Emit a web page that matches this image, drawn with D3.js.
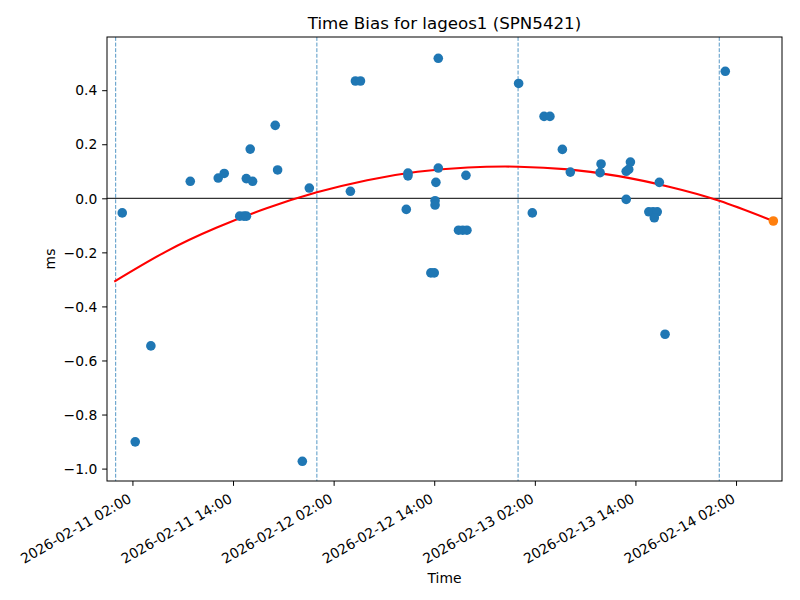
<!DOCTYPE html>
<html>
<head>
<meta charset="utf-8">
<script src="https://cdn.jsdelivr.net/npm/d3@7"></script>
<style>
  html, body { margin: 0; padding: 0; background: #fff; }
  svg { display: block; }
  text { font-family: "DejaVu Sans", sans-serif; fill: #000; }
</style>
</head>
<body>
<svg id="chart" width="800" height="600"></svg>
<script>
// ---- Data ----
const title = "Time Bias for lageos1 (SPN5421)";
const xLabel = "Time";
const yLabel = "ms";

// Observed time bias residuals (UTC) and values in ms
const obsTimes = [
  "2026-02-11 00:47", "2026-02-11 02:20", "2026-02-11 04:12", "2026-02-11 08:54",
  "2026-02-11 12:14", "2026-02-11 12:57", "2026-02-11 14:48", "2026-02-11 15:18",
  "2026-02-11 15:36", "2026-02-11 15:35", "2026-02-11 16:03", "2026-02-11 16:20",
  "2026-02-11 19:02", "2026-02-11 19:19", "2026-02-11 22:16", "2026-02-11 23:06",
  "2026-02-12 04:00", "2026-02-12 04:36", "2026-02-12 05:12", "2026-02-12 10:40",
  "2026-02-12 10:52", "2026-02-12 10:52", "2026-02-12 13:36", "2026-02-12 14:00",
  "2026-02-12 14:06", "2026-02-12 14:06", "2026-02-12 14:12", "2026-02-12 14:29",
  "2026-02-12 14:29", "2026-02-12 16:54", "2026-02-12 17:24", "2026-02-12 17:54",
  "2026-02-12 17:47", "2026-02-13 00:04", "2026-02-13 01:42", "2026-02-13 03:06",
  "2026-02-13 03:48", "2026-02-13 05:17", "2026-02-13 06:14", "2026-02-13 09:47",
  "2026-02-13 09:54", "2026-02-13 12:54", "2026-02-13 12:54", "2026-02-13 13:12",
  "2026-02-13 13:24", "2026-02-13 15:36", "2026-02-13 16:06", "2026-02-13 16:36",
  "2026-02-13 16:15", "2026-02-13 16:51", "2026-02-13 17:32", "2026-02-14 00:43"
];
const obsValues = [
  -0.054, -0.901, -0.546, 0.063,
  0.075, 0.092, -0.066, -0.066,
  -0.066, 0.073, 0.182, 0.063,
  0.270, 0.105, -0.973, 0.038,
  0.026, 0.434, 0.434, -0.041,
  0.093, 0.083, -0.276, -0.276,
  -0.009, -0.025, 0.059, 0.112,
  0.518, -0.118, -0.118, -0.118,
  0.085, 0.425, -0.054, 0.303,
  0.303, 0.181, 0.097, 0.095,
  0.127, -0.004, 0.100, 0.107,
  0.134, -0.050, -0.050, -0.050,
  -0.072, 0.059, -0.503, 0.470
];

// Predicted (extrapolated) point
const predTimes = ["2026-02-14 06:27"];
const predValues = [-0.084];

// Fitted curve
const fitTimes = [
  "2026-02-10 23:50", "2026-02-11 06:00", "2026-02-11 12:00", "2026-02-11 18:00",
  "2026-02-12 00:00", "2026-02-12 06:00", "2026-02-12 12:00", "2026-02-12 18:00",
  "2026-02-13 00:00", "2026-02-13 06:00", "2026-02-13 12:00", "2026-02-13 18:00",
  "2026-02-14 00:00", "2026-02-14 06:27"
];
const fitValues = [
  -0.308, -0.197, -0.109, -0.037,
  0.022, 0.067, 0.098, 0.114,
  0.117, 0.107, 0.082, 0.043,
  -0.009, -0.084
];

// Day boundaries (dashed vertical lines)
const dayLines = ["2026-02-11 00:00", "2026-02-12 00:00", "2026-02-13 00:00", "2026-02-14 00:00"];

// Tick labels
const xTickLabels = [
  "2026-02-11 02:00", "2026-02-11 14:00", "2026-02-12 02:00", "2026-02-12 14:00",
  "2026-02-13 02:00", "2026-02-13 14:00", "2026-02-14 02:00"
];
const yTickValues = [-1.0, -0.8, -0.6, -0.4, -0.2, 0.0, 0.2, 0.4];

// ---- Drawing ----
const parse = d3.utcParse("%Y-%m-%d %H:%M");
const fmt = d3.utcFormat("%Y-%m-%d %H:%M");

const L = 107, R = 782, T = 37, B = 481;
const FS = "13.89px";
const svg = d3.select("#chart");

const x = d3.scaleUtc()
  .domain([parse("2026-02-10 22:58"), parse("2026-02-14 07:29")])
  .range([L, R]);
const y = d3.scaleLinear()
  .domain([-1.0459, 0.5968])
  .range([B, T]);

svg.append("defs").append("clipPath").attr("id", "clip")
  .append("rect").attr("x", L).attr("y", T).attr("width", R - L).attr("height", B - T);

const plot = svg.append("g").attr("clip-path", "url(#clip)");

// dashed day lines
plot.selectAll("line.day").data(dayLines).enter().append("line")
  .attr("class", "day")
  .attr("x1", d => x(parse(d))).attr("x2", d => x(parse(d)))
  .attr("y1", T).attr("y2", B)
  .attr("stroke", "#1f77b4").attr("stroke-opacity", 0.85)
  .attr("stroke-width", 0.9)
  .attr("stroke-dasharray", "3.9,1.7");

// zero line
plot.append("line")
  .attr("x1", L).attr("x2", R)
  .attr("y1", y(0)).attr("y2", y(0))
  .attr("stroke", "#000").attr("stroke-width", 1);

// fit curve
const fitData = fitTimes.map((t, i) => [parse(t), fitValues[i]]);
plot.append("path")
  .datum(fitData)
  .attr("fill", "none")
  .attr("stroke", "#ff0000")
  .attr("stroke-width", 2.08)
  .attr("d", d3.line().x(d => x(d[0])).y(d => y(d[1])).curve(d3.curveNatural));

// observations
const obs = obsTimes.map((t, i) => [parse(t), obsValues[i]]);
plot.selectAll("circle.obs").data(obs).enter().append("circle")
  .attr("class", "obs")
  .attr("cx", d => x(d[0])).attr("cy", d => y(d[1]))
  .attr("r", 4.8)
  .attr("fill", "#1f77b4");

// predicted point
const pred = predTimes.map((t, i) => [parse(t), predValues[i]]);
plot.selectAll("circle.pred").data(pred).enter().append("circle")
  .attr("class", "pred")
  .attr("cx", d => x(d[0])).attr("cy", d => y(d[1]))
  .attr("r", 4.8)
  .attr("fill", "#ff7f0e");

// axes
const xAxis = d3.axisBottom(x)
  .tickValues(xTickLabels.map(parse))
  .tickSize(4.86)
  .tickFormat(fmt);
const gx = svg.append("g").attr("transform", `translate(0,${B})`).call(xAxis);
gx.select(".domain").remove();
gx.selectAll(".tick line").attr("stroke", "#000").attr("stroke-width", 1);
gx.selectAll(".tick text")
  .attr("font-size", FS)
  .attr("font-family", "DejaVu Sans")
  .attr("fill", "#000")
  .attr("text-anchor", "end")
  .attr("y", 0).attr("dy", 0)
  .attr("transform", "translate(-0.5,20.5) rotate(-30)");

const yAxis = d3.axisLeft(y)
  .tickValues(yTickValues)
  .tickSize(4.86)
  .tickFormat(d3.format(".1f"));
const gy = svg.append("g").attr("transform", `translate(${L},0)`).call(yAxis);
gy.select(".domain").remove();
gy.selectAll(".tick line").attr("stroke", "#000").attr("stroke-width", 1);
gy.selectAll(".tick text")
  .attr("font-size", FS)
  .attr("font-family", "DejaVu Sans")
  .attr("fill", "#000")
  .attr("x", -9.7)
  .attr("dy", "0.34em");

// frame
svg.append("rect")
  .attr("x", L).attr("y", T).attr("width", R - L).attr("height", B - T)
  .attr("fill", "none").attr("stroke", "#000").attr("stroke-width", 1);

// title and labels
svg.append("text")
  .attr("x", (L + R) / 2).attr("y", 28.7)
  .attr("text-anchor", "middle")
  .attr("font-size", "16.67px")
  .text(title);

svg.append("text")
  .attr("x", (L + R) / 2).attr("y", 582.5)
  .attr("text-anchor", "middle")
  .attr("font-size", FS)
  .text(xLabel);

svg.append("text")
  .attr("transform", `translate(55,${(T + B) / 2}) rotate(-90)`)
  .attr("text-anchor", "middle")
  .attr("font-size", FS)
  .text(yLabel);
</script>
</body>
</html>
